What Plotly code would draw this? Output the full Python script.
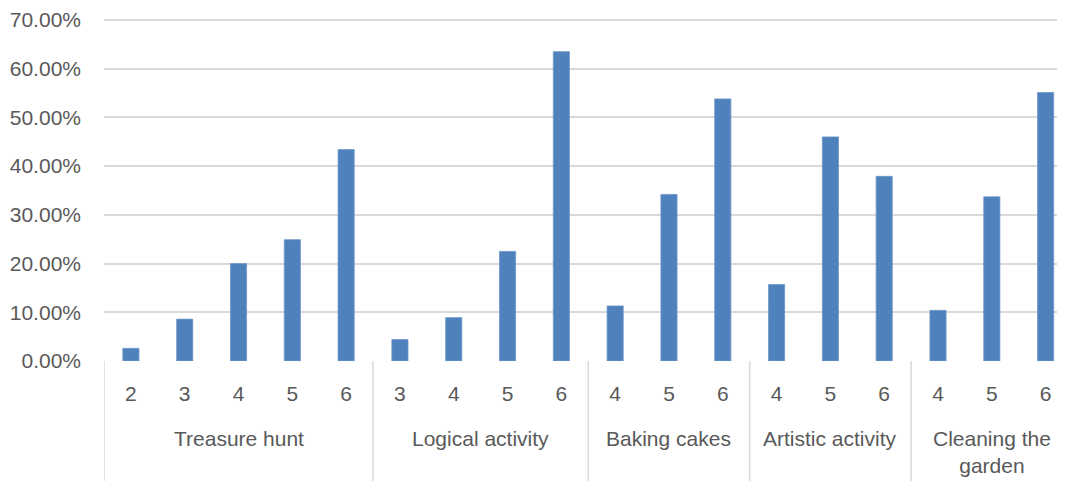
import plotly.graph_objects as go

groups = ["Treasure hunt", "Logical activity", "Baking cakes", "Artistic activity", "Cleaning the<br>garden"]
ages = [
    ["2", "3", "4", "5", "6"],
    ["3", "4", "5", "6"],
    ["4", "5", "6"],
    ["4", "5", "6"],
    ["4", "5", "6"],
]
values = [
    [0.026, 0.086, 0.200, 0.249, 0.434],
    [0.044, 0.089, 0.225, 0.635],
    [0.113, 0.342, 0.538],
    [0.157, 0.460, 0.379],
    [0.104, 0.337, 0.551],
]

# flatten
xs, ys, labels = [], [], []
i = 0
bounds = [-0.5]
centers = []
for g, a, v in zip(groups, ages, values):
    start = i
    for aa, vv in zip(a, v):
        xs.append(i)
        ys.append(vv)
        labels.append(aa)
        i += 1
    bounds.append(i - 0.5)
    centers.append((start + i - 1) / 2)

TEXT = "#595959"
GRID = "#d9d9d9"
FONT = "Liberation Sans"

fig = go.Figure()
fig.add_trace(go.Bar(
    x=xs, y=ys,
    marker=dict(color="#4f81bd", line=dict(color="#6f97c8", width=0.8)),
    hovertemplate="%{y:.2%}<extra></extra>",
))

plot_h = 347
bottom = 121
shapes = []
for b in bounds[:-1]:
    shapes.append(dict(type="line", xref="x", yref="paper", x0=b, x1=b,
                       y0=0, y1=-bottom / plot_h, line=dict(color=GRID, width=1.5)))

annotations = []
for g, c in zip(groups, centers):
    annotations.append(dict(x=c, xref="x", y=-(426 - 361) / plot_h, yref="paper",
                            text=g, showarrow=False, yanchor="top", xanchor="center",
                            font=dict(family=FONT, size=21, color=TEXT)))

fig.update_layout(
    width=1057, height=474,
    margin=dict(l=96, r=0, t=6, b=bottom, pad=0),
    paper_bgcolor="white", plot_bgcolor="white",
    showlegend=False,
    bargap=0.70,
    font=dict(family=FONT, size=21, color=TEXT),
    shapes=shapes,
    annotations=annotations,
    xaxis=dict(
        range=[-0.5, 17.36],
        tickmode="array", tickvals=xs, ticktext=labels,
        showgrid=False, zeroline=False, showline=False,
        ticks="", ticklabelstandoff=18,
        tickfont=dict(family=FONT, size=21, color=TEXT),
    ),
    yaxis=dict(
        range=[0, 0.7061], dtick=0.1, tickformat=".2%",
        showgrid=True, gridcolor=GRID, gridwidth=1.5,
        zeroline=False, showline=False, ticks="",
        ticklabelstandoff=22, ticklabeloverflow="allow",
        tickfont=dict(family=FONT, size=21, color=TEXT),
    ),
)

fig.write_html("out.html")
